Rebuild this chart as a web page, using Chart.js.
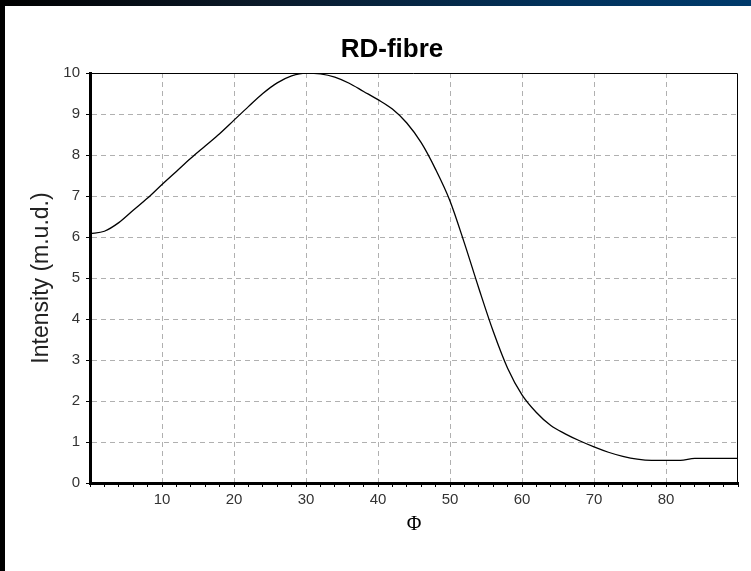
<!DOCTYPE html>
<html>
<head>
<meta charset="utf-8">
<script src="https://cdn.jsdelivr.net/npm/chart.js@4/dist/chart.umd.min.js"></script>
<style>
  body { margin: 0; background: #fff; }
  #wrap { position: relative; width: 751px; height: 571px; overflow: hidden; }
  #lineChart { position: absolute; left: 0; top: 0; }
  .bar-left { position: absolute; left: 0; top: 0; width: 5px; height: 571px; background: #000; }
  .bar-top { position: absolute; left: 0; top: 0; width: 751px; height: 6px;
             background: linear-gradient(to right, #000 0%, #0b1a2a 35%, #01325c 75%, #003a6b 100%); }
</style>
</head>
<body>
<div id="wrap">
  <canvas id="lineChart" width="751" height="571"></canvas>
  <div class="bar-left"></div>
  <div class="bar-top"></div>
</div>
<script>
// Phi (degrees) and intensity
var phi = [0, 2, 4, 6, 8, 10, 12, 14, 16, 18, 20, 22, 24, 26, 28, 30, 32, 34, 36, 38,
           40, 42, 44, 46, 48, 50, 52, 54, 56, 58, 60, 62, 64, 66, 68, 70, 72, 74, 76, 78,
           80, 82, 84, 86, 88, 90];
var intensity = [6.08, 6.14, 6.35, 6.65, 6.95, 7.28, 7.6, 7.92, 8.22, 8.52, 8.85, 9.18, 9.5, 9.76, 9.93, 10.0, 9.98, 9.9, 9.75, 9.55,
                 9.35, 9.12, 8.78, 8.3, 7.65, 6.88, 5.85, 4.75, 3.7, 2.8, 2.15, 1.72, 1.4, 1.2, 1.03, 0.88, 0.75, 0.65, 0.58, 0.55,
                 0.55, 0.55, 0.6, 0.6, 0.6, 0.6];
var xTickLabels = [10, 20, 30, 40, 50, 60, 70, 80];
var yTickLabels = [0, 1, 2, 3, 4, 5, 6, 7, 8, 9, 10];

var points = phi.map(function (p, i) { return {x: p, y: intensity[i]}; });

// thin frame on top and right side of the plot
var framePlugin = {
    id: 'frame',
    afterLayout: function (chart) {
        // title sits a bit left of the canvas centre in the original
        var t = chart.titleBlock;
        var shift = 392 - (t.left + t.right) / 2;
        t.left += shift;
        t.right += shift;
    },
    afterDraw: function (chart) {
        var a = chart.chartArea, ctx = chart.ctx;
        ctx.save();
        ctx.strokeStyle = '#000';
        ctx.lineWidth = 1;
        ctx.beginPath();
        ctx.moveTo(a.left, a.top + 0.5);
        ctx.lineTo(a.right - 0.5, a.top + 0.5);
        ctx.lineTo(a.right - 0.5, a.bottom);
        ctx.stroke();
        ctx.restore();
    }
};

var ctx = document.getElementById("lineChart").getContext("2d");
new Chart(ctx, {
    type: 'scatter',
    data: {
        datasets: [{
            label: 'RD-fibre',
            data: points,
            showLine: true,
            borderColor: '#000',
            borderWidth: 1.3,
            pointRadius: 0,
            cubicInterpolationMode: 'monotone'
        }]
    },
    options: {
        responsive: false,
        animation: false,
        devicePixelRatio: 1,
        layout: {padding: {left: 0, top: 0, right: 13, bottom: 0}},
        plugins: {
            legend: {display: false},
            tooltip: {enabled: false},
            title: {
                display: true,
                text: 'RD-fibre',
                color: '#000',
                font: {family: 'Liberation Sans, Arial', size: 26, weight: 'bold'},
                padding: {top: 34.4, bottom: 7.4}
            }
        },
        scales: {
            x: {
                type: 'linear',
                min: 0,
                max: 90,
                afterFit: function (s) { s.height = 88; },
                ticks: {
                    stepSize: 2,
                    autoSkip: false,
                    maxRotation: 0,
                    padding: 4,
                    color: '#333',
                    font: {family: 'Liberation Sans, Arial', size: 15},
                    callback: function (v) { return xTickLabels.indexOf(v) >= 0 ? String(v) : ''; }
                },
                grid: {
                    color: function (c) {
                        return (c.tick && xTickLabels.indexOf(c.tick.value) >= 0) ? '#b0b0b0' : 'transparent';
                    },
                    tickColor: '#000',
                    tickLength: 4,
                    lineWidth: 1
                },
                border: {display: true, color: '#000', width: 3, dash: [5, 4]},
                title: {
                    display: true,
                    text: 'Φ',
                    color: '#000',
                    font: {family: 'Liberation Serif, Times New Roman', size: 20},
                    padding: {top: 0, bottom: 34}
                }
            },
            y: {
                min: 0,
                max: 10,
                afterFit: function (s) { s.width = 90; },
                ticks: {
                    stepSize: 1,
                    padding: 6,
                    color: '#333',
                    font: {family: 'Liberation Sans, Arial', size: 15},
                    callback: function (v) { return yTickLabels.indexOf(v) >= 0 ? String(v) : ''; }
                },
                grid: {
                    color: function (c) {
                        return (c.tick && c.tick.value > 0 && c.tick.value < 10) ? '#b0b0b0' : 'transparent';
                    },
                    tickColor: '#000',
                    tickLength: 4,
                    lineWidth: 1
                },
                border: {display: true, color: '#000', width: 3, dash: [5, 4]},
                title: {
                    display: true,
                    text: 'Intensity (m.u.d.)',
                    color: '#222',
                    font: {family: 'Liberation Sans, Arial', size: 23},
                    padding: {top: 28, bottom: 0}
                }
            }
        }
    },
    plugins: [framePlugin]
});
</script>
</body>
</html>
